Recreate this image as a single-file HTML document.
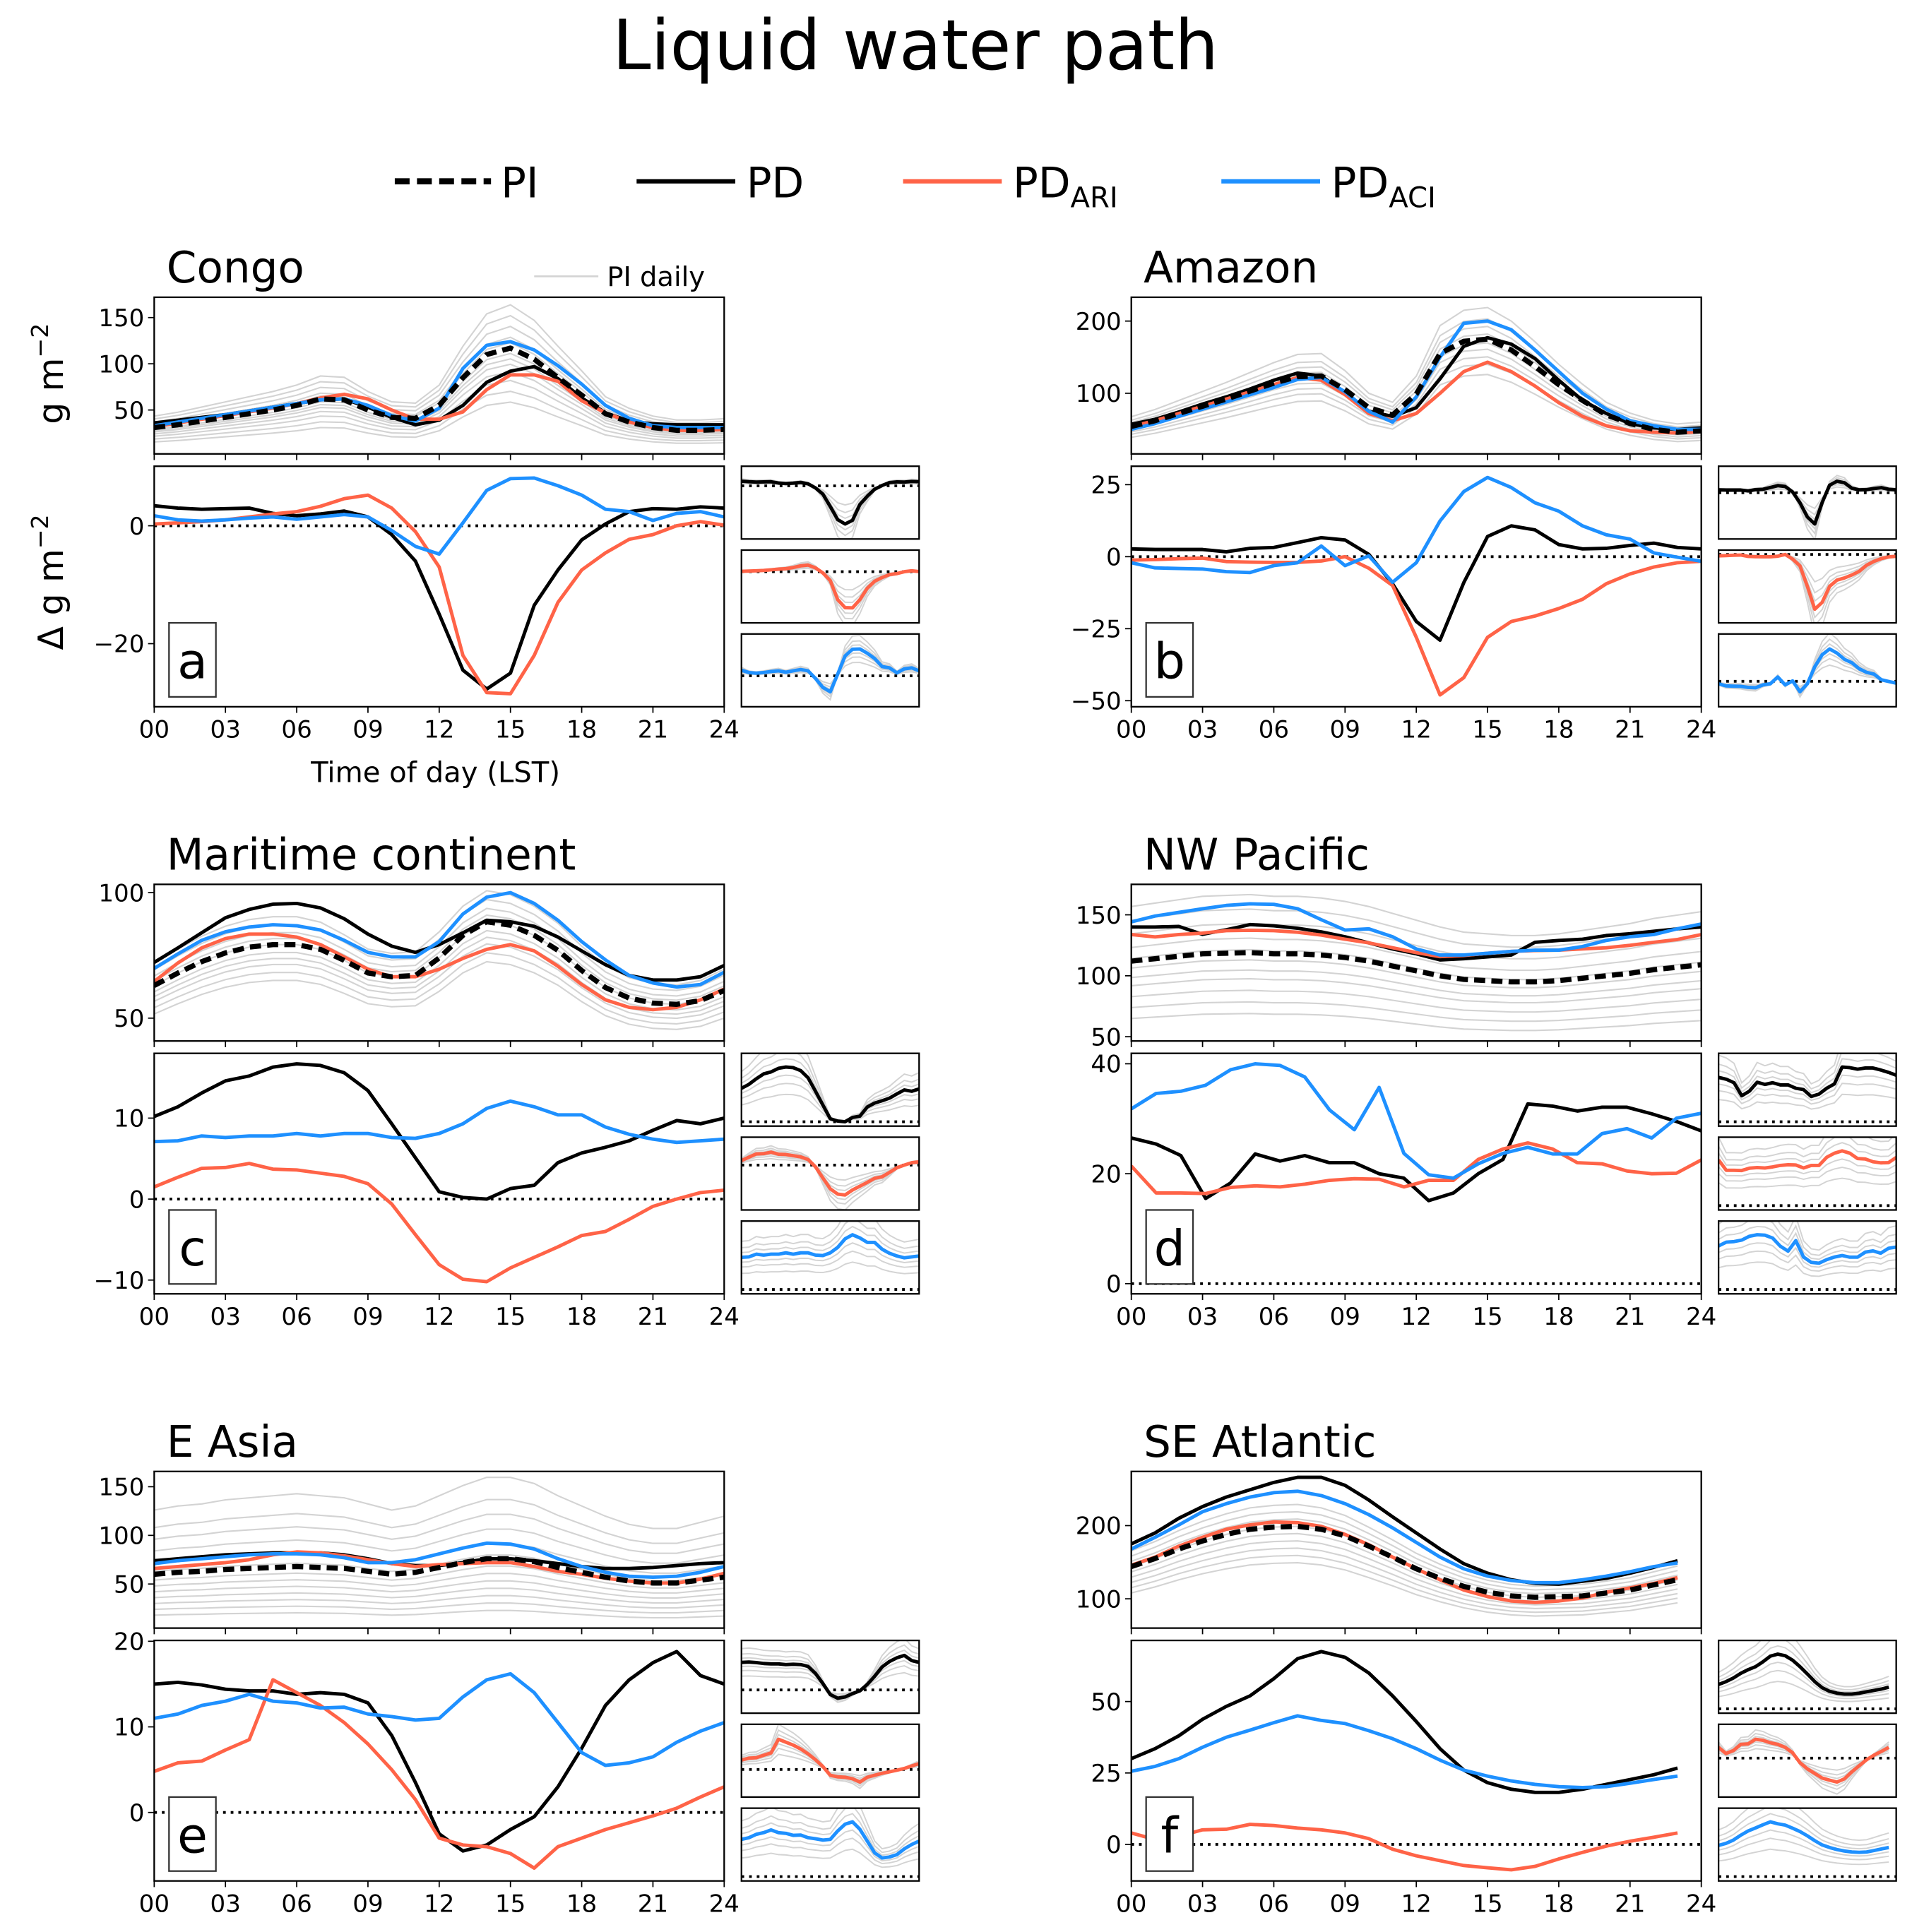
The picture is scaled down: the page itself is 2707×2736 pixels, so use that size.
<!DOCTYPE html>
<html><head><meta charset="utf-8"><title>Liquid water path</title>
<style>
html,body{margin:0;padding:0;background:#fff;}
svg{display:block;}
text{font-family:"DejaVu Sans","Liberation Sans",sans-serif;fill:#000;}
</style></head>
<body>
<svg id="fig" xmlns="http://www.w3.org/2000/svg" width="2707" height="2736" viewBox="0 0 1549.8 1566.4">
<rect x="0" y="0" width="1549.8" height="1566.4" fill="#fff"/>
<text x="742" y="56" font-size="56" text-anchor="middle">Liquid water path</text>
<g>
  <g><line x1="320" y1="147" x2="398" y2="147" stroke="#000" stroke-width="5" stroke-dasharray="12,6"/><text x="406" y="160" font-size="34">PI</text></g>
  <g><line x1="516" y1="147" x2="596" y2="147" stroke="#000" stroke-width="3.5"/><text x="605" y="160" font-size="34">PD</text></g>
  <g><line x1="732" y1="147" x2="812" y2="147" stroke="#ff6347" stroke-width="3.5"/><text x="821" y="160" font-size="34">PD<tspan font-size="23" dy="8">ARI</tspan></text></g>
  <g><line x1="990" y1="147" x2="1070" y2="147" stroke="#1e90ff" stroke-width="3.5"/><text x="1079" y="160" font-size="34">PD<tspan font-size="23" dy="8">ACI</tspan></text></g>
</g>
<g><line x1="433" y1="224" x2="485" y2="224" stroke="#d3d3d3" stroke-width="1.5"/><text x="492" y="232" font-size="22">PI daily</text></g>
<text transform="translate(51,303) rotate(-90)" font-size="28" text-anchor="middle">g m<tspan font-size="19" dy="-12">−2</tspan></text>
<text transform="translate(51,472) rotate(-90)" font-size="28" text-anchor="middle">Δ g m<tspan font-size="19" dy="-12">−2</tspan></text>
<text x="353" y="634" font-size="23" text-anchor="middle">Time of day (LST)</text>
</svg>
<script>
// ---------- DATA ----------
const hourTicks = ["00","03","06","09","12","15","18","21","24"];
const regionNames = ["Congo","Amazon","Maritime continent","NW Pacific","E Asia","SE Atlantic"];
const panelLetters = ["a","b","c","d","e","f"];

const congoPI  = [31,34,38,42,46,50,55,62,61,50,42,41,55,85,110,117,105,85,66,46,37,31,28,28,29];
const congoPD  = [36,39,42,45,49,53,57,61,62,53,42,34,39,55,80,92,97,84,63,47,38,35,34,34,34];
const congoARI = [32,36,40,44,48,52,57,63,67,62,50,40,40,48,72,88,88,81,60,47,37,31,28,28,29];
const congoACI = [33,37,41,45,49,53,57,61,62,55,44,38,52,95,120,124,115,98,78,55,41,33,31,31,31];
const congoDPD  = [3.4,3.0,2.8,2.9,3.0,2.1,1.7,2.0,2.5,1.5,-1.5,-6,-15,-24.5,-27.7,-25,-13.5,-7.5,-2.4,0.3,2.4,2.9,2.8,3.2,3];
const congoDARI = [0.3,0.5,0.7,1,1.5,2,2.4,3.3,4.6,5.2,3,-1,-7,-22,-28.3,-28.5,-22,-13,-7.5,-4.6,-2.3,-1.5,0,0.7,0.1];
const congoDACI = [1.7,1,0.8,1,1.3,1.5,1.1,1.5,1.9,1.5,-0.8,-3.5,-4.8,0.5,6,8,8.1,6.8,5.2,2.8,2.4,0.9,2.1,2.4,1.5];
const congoDaily = [0.5,0.6,0.7,0.78,0.85,0.9,0.95,1.05,1.1,1.2,1.3,1.4];

const amazonPI  = [54,62,72,82,92,103,114,123,124,105,80,70,99,155,172,175,160,137,112,90,70,58,50,46,48];
const amazonPD  = [57,64,74,85,95,106,118,128,124,100,75,68,80,120,165,177,168,148,118,90,72,58,52,50,52];
const amazonARI = [54,62,72,82,92,102,112,122,118,98,72,62,72,100,130,143,130,110,87,68,55,48,46,45,47];
const amazonACI = [50,58,68,78,88,98,108,119,122,102,75,60,95,150,197,200,188,160,130,100,78,62,55,50,50];
const amazonDPD  = [2.7,2.5,2.5,2.5,1.7,2.9,3.2,4.9,6.6,5.8,0.8,-9.4,-22.5,-29,-9,7,10.7,9.3,4.2,2.7,2.9,3.9,4.7,3.2,2.7];
const amazonDARI = [-1.2,-1,-0.7,-0.5,-1.7,-1.9,-2,-2,-1.5,0,-4,-10,-28,-48,-42,-28,-22.5,-20.6,-18,-14.8,-9.4,-6,-3.6,-2.1,-1.6];
const amazonDACI = [-2.1,-3.9,-4.1,-4.3,-5.2,-5.5,-3.1,-2.1,3.7,-3.1,0.3,-8.9,-2.1,12.4,22.6,27.5,24,18.7,15.8,10.7,7.6,6.1,1.3,-0.2,-1.6];
const amazonDaily = [0.72,0.8,0.86,0.92,0.97,1.04,1.1,1.16,1.25];

const maritimePI  = [63,68,72.5,76,78.3,79.3,79.3,77.4,73,68,66.5,67,74,83,88.4,87,83,77,69,62.2,58,56,55.5,57,61];
const maritimePD  = [72.2,78,84,90,93.3,95.4,95.7,93.9,89.6,83.5,78.7,76.2,79.3,84,89,88.4,86.6,82.3,76.8,71.3,67,65.2,65.2,66.5,71];
const maritimeARI = [64.6,72,78,81.7,83.5,83.5,82.3,79.3,74.4,69.5,66.5,66.5,69.5,73.8,77.4,79.3,76.8,70.7,63.4,57.3,54.3,53.4,54.3,57.3,61.6];
const maritimeACI = [69.8,75.6,81,84.4,86.3,87.2,86.8,85.1,81,76.2,74.4,74.4,80.5,91.5,98.2,100,95.7,89,80.5,73.2,67,64,62.4,63.4,68.3];
const maritimeDPD  = [10.2,11.4,13.1,14.6,15.2,16.3,16.7,16.5,15.6,13.4,9.3,5.1,0.9,0.2,0,1.3,1.7,4.5,5.7,6.4,7.2,8.5,9.7,9.3,10];
const maritimeDARI = [1.5,2.7,3.8,3.9,4.4,3.7,3.6,3.2,2.8,1.9,-0.6,-4.4,-8.1,-9.9,-10.2,-8.5,-7.2,-5.9,-4.5,-4,-2.5,-0.9,0,0.8,1.1];
const maritimeDACI = [7.1,7.2,7.8,7.6,7.8,7.8,8.1,7.8,8.1,8.1,7.6,7.5,8.1,9.3,11.2,12.1,11.4,10.4,10.4,8.9,8,7.4,7,7.2,7.4];
const maritimeDaily = [0.82,0.86,0.9,0.93,0.96,1.0,1.03,1.06,1.1,1.14];

const nwpacPI  = [112,114,116,118,118.5,119,118,118,117,115,112,108,104,100,97,96,95,95,96,98,100,102,105,107,109];
const nwpacPD  = [140,140,140.5,134,137.8,142,141,139,136,132,127,122,118,113,114,115.5,117,127.5,129,130,133,134.5,136.5,138.5,140];
const nwpacARI = [133.8,131.9,133.8,135,137,137.3,137,135.7,133.4,130,127,123,119,115.7,116.6,118.5,120,120.7,121,122,123,125,127.5,129.8,133.8];
const nwpacACI = [144.2,149,152,155,157.7,159,158.6,155,146,137.5,138.5,132,122,117,117,118.5,120,121,121,124,129,132,133.8,138.6,142.5];
const nwpacDPD  = [26.5,25.4,23.3,15.5,18.3,23.6,22.3,23.3,22,22,20,19.2,15.1,16.5,20,22.6,32.7,32.3,31.4,32.1,32.1,30.9,29.5,27.8];
const nwpacDARI = [21.4,16.5,16.5,16.4,17.5,17.8,17.6,18.1,18.8,19.1,19,17.6,18.8,18.8,22.6,24.5,25.6,24.5,22,21.8,20.5,20,20.1,22.5];
const nwpacDACI = [31.8,34.6,35,36.1,38.9,40,39.7,37.6,31.6,28,35.7,23.7,19.8,19.2,21.8,23.7,24.8,23.6,23.6,27.3,28.2,26.5,30.1,31];
const nwpacDaily = [0.58,0.66,0.74,0.82,0.88,0.95,1.02,1.1,1.2,1.3,1.4];

const easiaPI  = [60,62,63,65,66,67,68,67,66,63,60,62,67,72,76,76,73,67,62,57,53,51,51,54,57];
const easiaPD  = [74,76,78,80,81,82,82,82,80,76,71,69,69,72,76,76,74,71,68,66,66,67,69,71,72];
const easiaARI = [66,68,70,72,75,80,83,82,79,75,71,68,70,71,72,72,68,63,60,56,53,51,51,55,61];
const easiaACI = [71,74,76,78,80,81,81,80,77,72,72,75,81,87,92,91,86,76,68,62,58,57,58,62,68];
const easiaDPD  = [15,15.2,14.9,14.4,14.2,14.2,13.8,14,13.8,12.8,9,3.5,-2.5,-4.5,-3.8,-2,-0.5,3,7.5,12.5,15.5,17.5,18.8,16,15];
const easiaDARI = [4.8,5.8,6,7.3,8.5,15.5,14,12.5,10.5,8,5,1.5,-3,-3.8,-4,-4.8,-6.5,-4,-3,-2,-1.2,-0.4,0.5,1.8,3];
const easiaDACI = [11,11.5,12.5,13,13.8,13,12.8,12.2,12.3,11.5,11.2,10.8,11,13.5,15.5,16.2,14,10.5,7,5.5,5.8,6.5,8.2,9.5,10.5];
const easiaDaily = [0.3,0.4,0.5,0.6,0.7,0.8,0.9,1.05,1.2,1.4,1.6,1.8,2.1];

const seatlPI  = [144,155,168,179,188,195,198,199,195,186,172,157,141,128,117,109,104,102,103,104,108,112,119,126];
const seatlPD  = [175,190,210,226,239,249,259,266,266,255,235,212,190,168,148,135,126,121,120,124,128,135,143,152];
const seatlARI = [146,157,172,184,195,201,205,204,199,188,174,157,141,126,112,103,97,95,97,101,109,115,121,129];
const seatlACI = [168,184,201,219,230,239,245,247,241,230,215,197,177,157,141,131,125,122,122,126,131,137,144,149];
const seatlDPD  = [30,33.5,38,43.8,48.3,52,58,65,67.5,65.5,60,52,43,33.5,26,21.6,19.3,18.2,18.2,19.3,21,22.7,24.4,26.7];
const seatlDARI = [4,1.7,2.8,5.1,5.3,7,6.6,5.7,5.1,4,2,-1.7,-4,-5.7,-7.4,-8.2,-8.9,-7.7,-5.1,-2.8,-0.6,1.1,2.5,4];
const seatlDACI = [25.6,27.3,30,34,37.5,40,42.6,45,43.4,42.3,39.8,37,33.5,29.5,26,23.9,22.2,21,20.2,19.9,20.2,21.4,22.7,23.9];
const seatlDaily = [0.75,0.8,0.85,0.9,0.95,1.0,1.05,1.1,1.15];

const insetDaily = [0.5,0.7,0.85,1.15,1.3,1.5];

const topTicks = [[50,100,150],[100,200],[50,100],[50,100,150],[50,100,150],[100,200]];
const bottomTicks = [[-20,0],[-50,-25,0,25],[-10,0,10],[0,20,40],[0,10,20],[0,25,50]];
const topRanges = [[2.5,172],[16,233],[40.9,103.3],[46.5,175],[4.7,165.7],[60,274]];
const bottomRanges = [[-30.7,10.1],[-52.1,31.4],[-11.7,18],[-1.85,41.9],[-8,20.1],[-12.8,71.4]];
const xEnds = [24,24,24,24,24,23];

const panels = [
 {pi:congoPI,pd:congoPD,ari:congoARI,aci:congoACI,dpd:congoDPD,dari:congoDARI,daci:congoDACI,daily:congoDaily},
 {pi:amazonPI,pd:amazonPD,ari:amazonARI,aci:amazonACI,dpd:amazonDPD,dari:amazonDARI,daci:amazonDACI,daily:amazonDaily},
 {pi:maritimePI,pd:maritimePD,ari:maritimeARI,aci:maritimeACI,dpd:maritimeDPD,dari:maritimeDARI,daci:maritimeDACI,daily:maritimeDaily},
 {pi:nwpacPI,pd:nwpacPD,ari:nwpacARI,aci:nwpacACI,dpd:nwpacDPD,dari:nwpacDARI,daci:nwpacDACI,daily:nwpacDaily},
 {pi:easiaPI,pd:easiaPD,ari:easiaARI,aci:easiaACI,dpd:easiaDPD,dari:easiaDARI,daci:easiaDACI,daily:easiaDaily},
 {pi:seatlPI,pd:seatlPD,ari:seatlARI,aci:seatlACI,dpd:seatlDPD,dari:seatlDARI,daci:seatlDACI,daily:seatlDaily}
];

// ---------- DRAWING ----------
const NS = "http://www.w3.org/2000/svg";
const svg = document.getElementById("fig");
const RED = "#ff6347", BLUE = "#1e90ff", GRAY = "#d3d3d3";
function mk(tag, attrs, parent){
  const el = document.createElementNS(NS, tag);
  for (const k in attrs) el.setAttribute(k, attrs[k]);
  (parent||svg).appendChild(el);
  return el;
}
let clipId = 0;
function makeClip(x,y,w,h){
  const id = "clip"+(clipId++);
  const cp = mk("clipPath",{id:id});
  mk("rect",{x:x,y:y,width:w,height:h},cp);
  return id;
}
function linePath(vals, xEnd, sx, sy){
  let d = "";
  vals.forEach((v,i)=>{
    const h = i*xEnd/(vals.length-1);
    d += (i?"L":"M") + sx(h).toFixed(2) + "," + sy(v).toFixed(2);
  });
  return d;
}
function spine(g,x,y,w,h){
  mk("rect",{x:x,y:y,width:w,height:h,fill:"none",stroke:"#000","stroke-width":1.3},g);
}

panels.forEach((p,pi)=>{
  const col = pi%2, row = Math.floor(pi/2);
  const L = col===0 ? 125 : 917;
  const W = 462;
  const T = 241 + row*476;
  const topH = 127, botT = T+137, botH = 195;
  const xEnd = xEnds[pi];
  const sx = h => L + h/24*W;

  const panel = mk("g",{});
  
  

  const title = mk("text",{x:L+10,y:T-12,"font-size":35},panel);
  title.textContent = regionNames[pi];
  
  

  // ---- top axes ----
  const tg = mk("g",{},panel);
  
  
  const [tlo,thi] = topRanges[pi];
  const sy = v => T + topH - (v-tlo)/(thi-tlo)*topH;
  const cTop = makeClip(L,T,W,topH);
  const lg = mk("g",{"clip-path":"url(#"+cTop+")"},tg);
  p.daily.forEach(f=>{
    const d = p.pi.map(v=>v*f);
    const el = mk("path",{d:linePath(d,xEnd,sx,sy),fill:"none",stroke:GRAY,"stroke-width":1.2},lg);
    
    
  });
  [[p.pd,"#000",2.8,null,"pd-line"],[p.ari,RED,2.8,null,"pd-ari-line"],[p.aci,BLUE,2.8,null,"pd-aci-line"],[p.pi,"#000",4.2,"9,5","pi-line"]].forEach(s=>{
    const el = mk("path",{d:linePath(s[0],xEnd,sx,sy),fill:"none",stroke:s[1],"stroke-width":s[2],"stroke-linejoin":"round"},lg);
    if (s[3]) el.setAttribute("stroke-dasharray",s[3]);
    
    
  });
  spine(tg,L,T,W,topH);
  topTicks[pi].forEach(v=>{
    const y = sy(v);
    mk("line",{x1:L-5,y1:y,x2:L,y2:y,stroke:"#000","stroke-width":1},tg);
    const t = mk("text",{x:L-8,y:y+7,"font-size":19.5,"text-anchor":"end"},tg);
    t.textContent = v;
    
    
  });
  hourTicks.forEach((lab,i)=>{
    const x = sx(i*3);
    mk("line",{x1:x,y1:T+topH,x2:x,y2:T+topH+5,stroke:"#000","stroke-width":1},tg);
  });

  // ---- bottom axes ----
  const bg = mk("g",{},panel);
  
  
  const [blo,bhi] = bottomRanges[pi];
  const sy2 = v => botT + botH - (v-blo)/(bhi-blo)*botH;
  const cBot = makeClip(L,botT,W,botH);
  const bl = mk("g",{"clip-path":"url(#"+cBot+")"},bg);
  mk("line",{x1:L,y1:sy2(0),x2:L+W,y2:sy2(0),stroke:"#000","stroke-width":2.2,"stroke-dasharray":"2.2,4"},bl);
  [[p.dpd,"#000","pd-difference-line"],[p.dari,RED,"pd-ari-difference-line"],[p.daci,BLUE,"pd-aci-difference-line"]].forEach(s=>{
    const el = mk("path",{d:linePath(s[0],xEnd,sx,sy2),fill:"none",stroke:s[1],"stroke-width":2.8,"stroke-linejoin":"round"},bl);
    
    
  });
  spine(bg,L,botT,W,botH);
  bottomTicks[pi].forEach(v=>{
    const y = sy2(v);
    mk("line",{x1:L-5,y1:y,x2:L,y2:y,stroke:"#000","stroke-width":1},bg);
    const t = mk("text",{x:L-8,y:y+7,"font-size":19.5,"text-anchor":"end"},bg);
    t.textContent = v < 0 ? "−"+Math.abs(v) : v;
    
    
  });
  hourTicks.forEach((lab,i)=>{
    const x = sx(i*3);
    mk("line",{x1:x,y1:botT+botH,x2:x,y2:botT+botH+5,stroke:"#000","stroke-width":1},bg);
    const t = mk("text",{x:x,y:botT+botH+25,"font-size":19.5,"text-anchor":"middle"},bg);
    t.textContent = lab;
    
    
  });
  // panel letter box
  const lb = mk("g",{},bg);
  
  
  mk("rect",{x:L+12,y:botT+127,width:38,height:60,fill:"#fff",stroke:"#333","stroke-width":1.3},lb);
  const lt = mk("text",{x:L+31,y:botT+172,"font-size":40,"text-anchor":"middle"},lb);
  lt.textContent = panelLetters[pi];

  // ---- insets ----
  const IL = L+476, IW = 144, IH = 59;
  [[p.dpd,"#000"],[p.dari,RED],[p.daci,BLUE]].forEach((s,k)=>{
    const IT = botT + k*68;
    const ig = mk("g",{},panel);
    
    
    const mn0 = Math.min(...s[0]), mx0 = Math.max(...s[0]);
    let lo, hi;
    if (mn0 >= 0) { lo = -0.08*mx0; hi = mx0*1.25; }
    else if (mx0 <= 0) { lo = mn0*1.25; hi = -0.08*mn0; }
    else { const span = mx0-mn0; lo = mn0 - 0.35*span; hi = mx0 + 0.35*span; }
    const isx = h => IL + h/24*IW;
    const isy = v => IT + IH - (v-lo)/(hi-lo)*IH;
    const c = makeClip(IL,IT,IW,IH);
    const cg = mk("g",{"clip-path":"url(#"+c+")"},ig);
    insetDaily.forEach(f=>{
      const el = mk("path",{d:linePath(s[0].map(v=>v*f),xEnd,isx,isy),fill:"none",stroke:GRAY,"stroke-width":1.1},cg);
      
      
    });
    mk("line",{x1:IL,y1:isy(0),x2:IL+IW,y2:isy(0),stroke:"#000","stroke-width":2.2,"stroke-dasharray":"2.2,4"},cg);
    const el = mk("path",{d:linePath(s[0],xEnd,isx,isy),fill:"none",stroke:s[1],"stroke-width":2.8,"stroke-linejoin":"round"},cg);
    
    
    spine(ig,IL,IT,IW,IH);
  });
});
</script>
</body></html>
